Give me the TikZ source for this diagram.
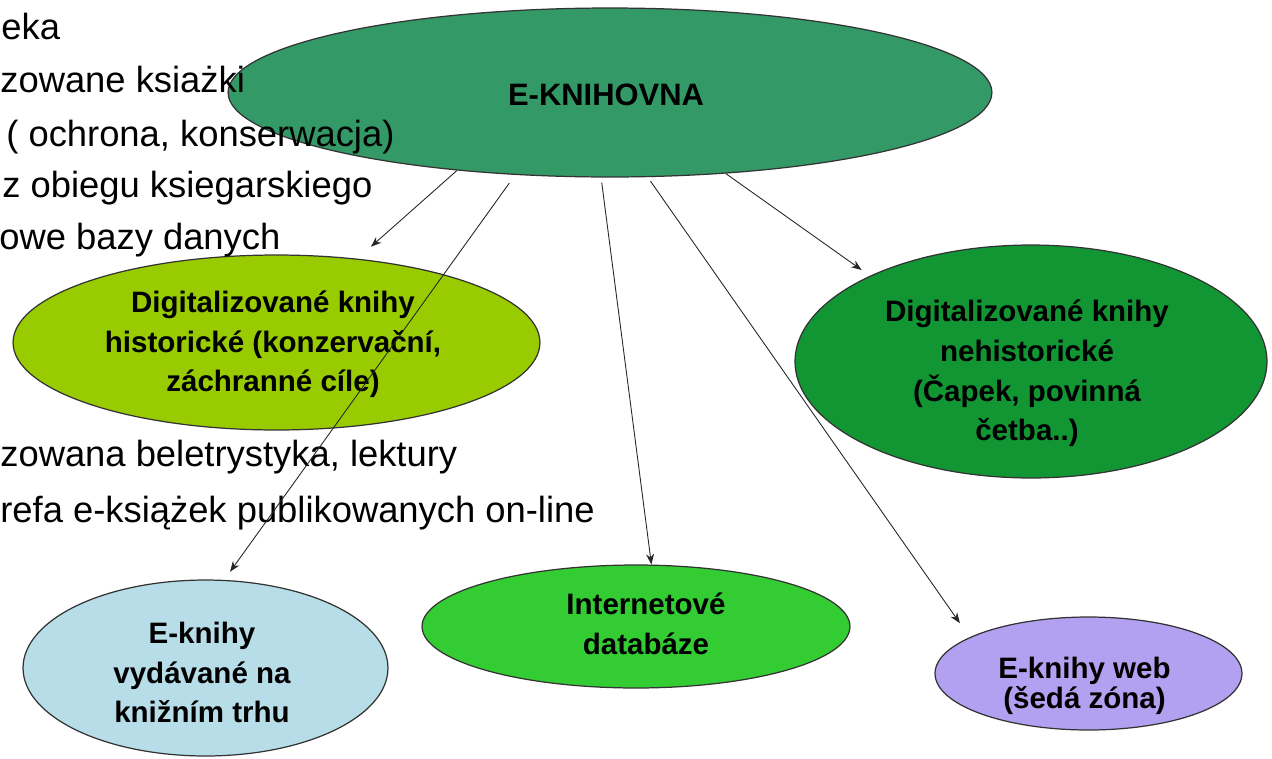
\documentclass[tikz,border=0pt]{standalone}
\usepackage{fontspec}
\setmainfont{Liberation Sans}
\usetikzlibrary{shapes.geometric, arrows.meta}

\definecolor{libgreen}{RGB}{51,153,102}
\definecolor{histgreen}{RGB}{153,204,0}
\definecolor{nehistgreen}{RGB}{17,150,51}
\definecolor{dbgreen}{RGB}{51,204,51}
\definecolor{marketblue}{RGB}{183,221,232}
\definecolor{weblilac}{RGB}{178,160,240}

\tikzstyle{bubble} = [ellipse, draw=black!80, line width=0.7pt, inner sep=0pt]
\tikzstyle{bubbletext} = [inner sep=0pt, align=center, text=black,
font=\fontsize{16.8}{22.5}\selectfont\bfseries]
\tikzstyle{slidetext} = [anchor=base west, inner sep=0pt, font=\fontsize{20.7}{24}\selectfont]
\tikzstyle{arrow} = [draw=black!85, line width=0.5pt, -{Stealth[length=6pt,width=4.5pt]}]

\begin{document}
\begin{tikzpicture}[x=0.02cm, y=-0.02cm]
\useasboundingbox (0,0) rectangle (1272,758);

% ellipses
\node (lib) [bubble, fill=libgreen, minimum width=15.28cm, minimum height=3.38cm] at (610,92.5) {};
\node (hist) [bubble, fill=histgreen, minimum width=10.54cm, minimum height=3.5cm] at (276.5,342.5) {};
\node (nehist) [bubble, fill=nehistgreen, minimum width=9.44cm, minimum height=4.66cm] at (1031,361.5) {};
\node (intdb) [bubble, fill=dbgreen, minimum width=8.56cm, minimum height=2.46cm] at (636,626.5) {};
\node (market) [bubble, fill=marketblue, minimum width=7.3cm, minimum height=3.52cm] at (205.5,668) {};
\node (web) [bubble, fill=weblilac, minimum width=6.14cm, minimum height=2.26cm] at (1088.5,673.5) {};

% their texts
\node (libtxt) [bubbletext, font=\fontsize{17.6}{20}\selectfont\bfseries] at (606,95) {E-KNIHOVNA};
\node (histtxt) [bubbletext] at (273,344.5)
  {Digitalizované knihy\\historické (konzervační,\\záchranné cíle)};
\node (nehisttxt) [bubbletext] at (1027,373.5)
  {Digitalizované knihy\\nehistorické\\(Čapek, povinná\\četba..)};
\node (intdbtxt) [bubbletext] at (646,624) {Internetové\\databáze};
\node (markettxt) [bubbletext] at (202,672.5) {E-knihy\\vydávané na\\knižním trhu};
\node (webtxt) [bubbletext, font=\fontsize{16.8}{15.9}\selectfont\bfseries] at (1084.5,686)
  {E-knihy web\\(šedá zóna)};

% text of the slide behind the diagram
\foreach \n/\xx/\yy/\txt in {1/1/39/{eka}, 2/0/92/{zowane ksiażki}, 3/6/146/{( ochrona, konserwacja)},
  4/2/197/{z obiegu ksiegarskiego}, 5/-1/249/{owe bazy danych},
  6/0/466/{zowana beletrystyka, lektury}, 7/0/522/{refa e-książek publikowanych on-line}}
  \node (line\n) [slidetext] at (\xx,\yy) {\txt};

\draw [arrow, shorten >=0.36cm] (lib.207) -- (hist.46);
\draw [arrow, shorten <=0.2cm, shorten >=0.2cm] (lib.221) -- (market.78);
\draw [arrow, shorten <=0.1cm] (lib.264) -- (intdb.76);
\draw [arrow, shorten <=0.1cm, shorten >=0.34cm] (lib.294) -- (web.163);
\draw [arrow, shorten >=0.2cm] (lib.-35) -- (nehist.152);

\end{tikzpicture}
\end{document}
